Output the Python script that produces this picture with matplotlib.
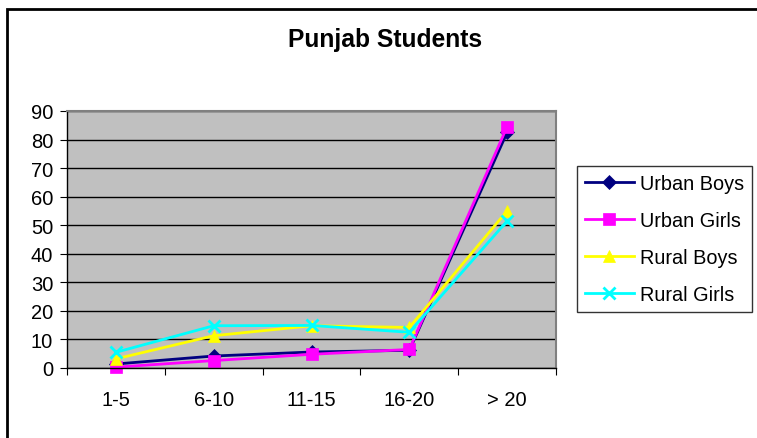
import matplotlib
matplotlib.use('Agg')
import matplotlib.pyplot as plt
from matplotlib.patches import Rectangle

plt.rcParams['font.family'] = ['Liberation Sans', 'DejaVu Sans']

categories = ['1-5', '6-10', '11-15', '16-20', '> 20']
urban_boys = [1.4, 4.2, 5.6, 6.2, 82.5]
urban_girls = [0.3, 2.6, 4.8, 6.5, 84.5]
rural_boys = [3.2, 11.3, 14.8, 14.2, 55.0]
rural_girls = [5.5, 14.8, 14.9, 12.5, 51.5]

series = [
    ('Urban Boys', urban_boys, '#000080', 'D', 7),
    ('Urban Girls', urban_girls, '#FF00FF', 's', 9),
    ('Rural Boys', rural_boys, '#FFFF00', '^', 9),
    ('Rural Girls', rural_girls, '#00FFFF', 'x', 9),
]


def graph_students():
    fig = plt.figure(figsize=(7.57, 4.39), dpi=100)
    W, H = 757, 439

    # outer chart border (only top and left visible)
    fig.add_artist(Rectangle((7 / W, -0.1), 1.2, 1.1 - 10 / H,
                             transform=fig.transFigure, fill=False,
                             edgecolor='black', linewidth=2))

    ax = fig.add_axes([67 / W, 1 - 369 / H, (556 - 67) / W, (369 - 112) / H])
    ax.set_facecolor('#C0C0C0')
    x = list(range(len(categories)))
    for name, vals, color, marker, size in series:
        ax.plot(x, vals, color=color, marker=marker, markersize=size,
                linewidth=2, label=name,
                markeredgewidth=2 if marker == 'x' else 0.5,
                markeredgecolor=color, clip_on=False)

    ax.set_xlim(-0.5, len(categories) - 0.5)
    ax.set_ylim(0, 90)
    ax.set_yticks(range(0, 91, 10))
    ax.set_xticks([i - 0.5 for i in range(len(categories) + 1)])
    ax.set_xticklabels([])
    ax.set_xticks(x, minor=True)
    ax.set_xticklabels(categories, minor=True)
    ax.tick_params(axis='x', which='minor', length=0, pad=15.5, labelsize=14.5)
    ax.tick_params(axis='x', which='major', length=5, direction='out', color='black')
    ax.tick_params(axis='y', length=5, direction='out', labelsize=14.5, pad=5)
    ax.grid(axis='y', color='black', linewidth=1)
    ax.set_axisbelow(True)
    for side in ['top', 'right']:
        ax.spines[side].set_color('#808080')
        ax.spines[side].set_linewidth(1.5)
    for side in ['left', 'bottom']:
        ax.spines[side].set_color('black')
        ax.spines[side].set_linewidth(1)

    fig.text(385 / W, 1 - 47 / H, 'Punjab Students', ha='center', va='baseline',
             fontsize=17.7, fontweight='bold')

    leg = fig.legend(loc='upper left', bbox_to_anchor=(577 / W, 1 - 167 / H),
                     frameon=True, fancybox=False, edgecolor='black',
                     fontsize=14.3, handlelength=2.45, borderpad=0.4,
                     labelspacing=0.9, handletextpad=0.3, borderaxespad=0)
    leg.get_frame().set_linewidth(1)

    plt.savefig('out.png', dpi=100)


def main():
    graph_students()


if __name__ == "__main__":
    main()
